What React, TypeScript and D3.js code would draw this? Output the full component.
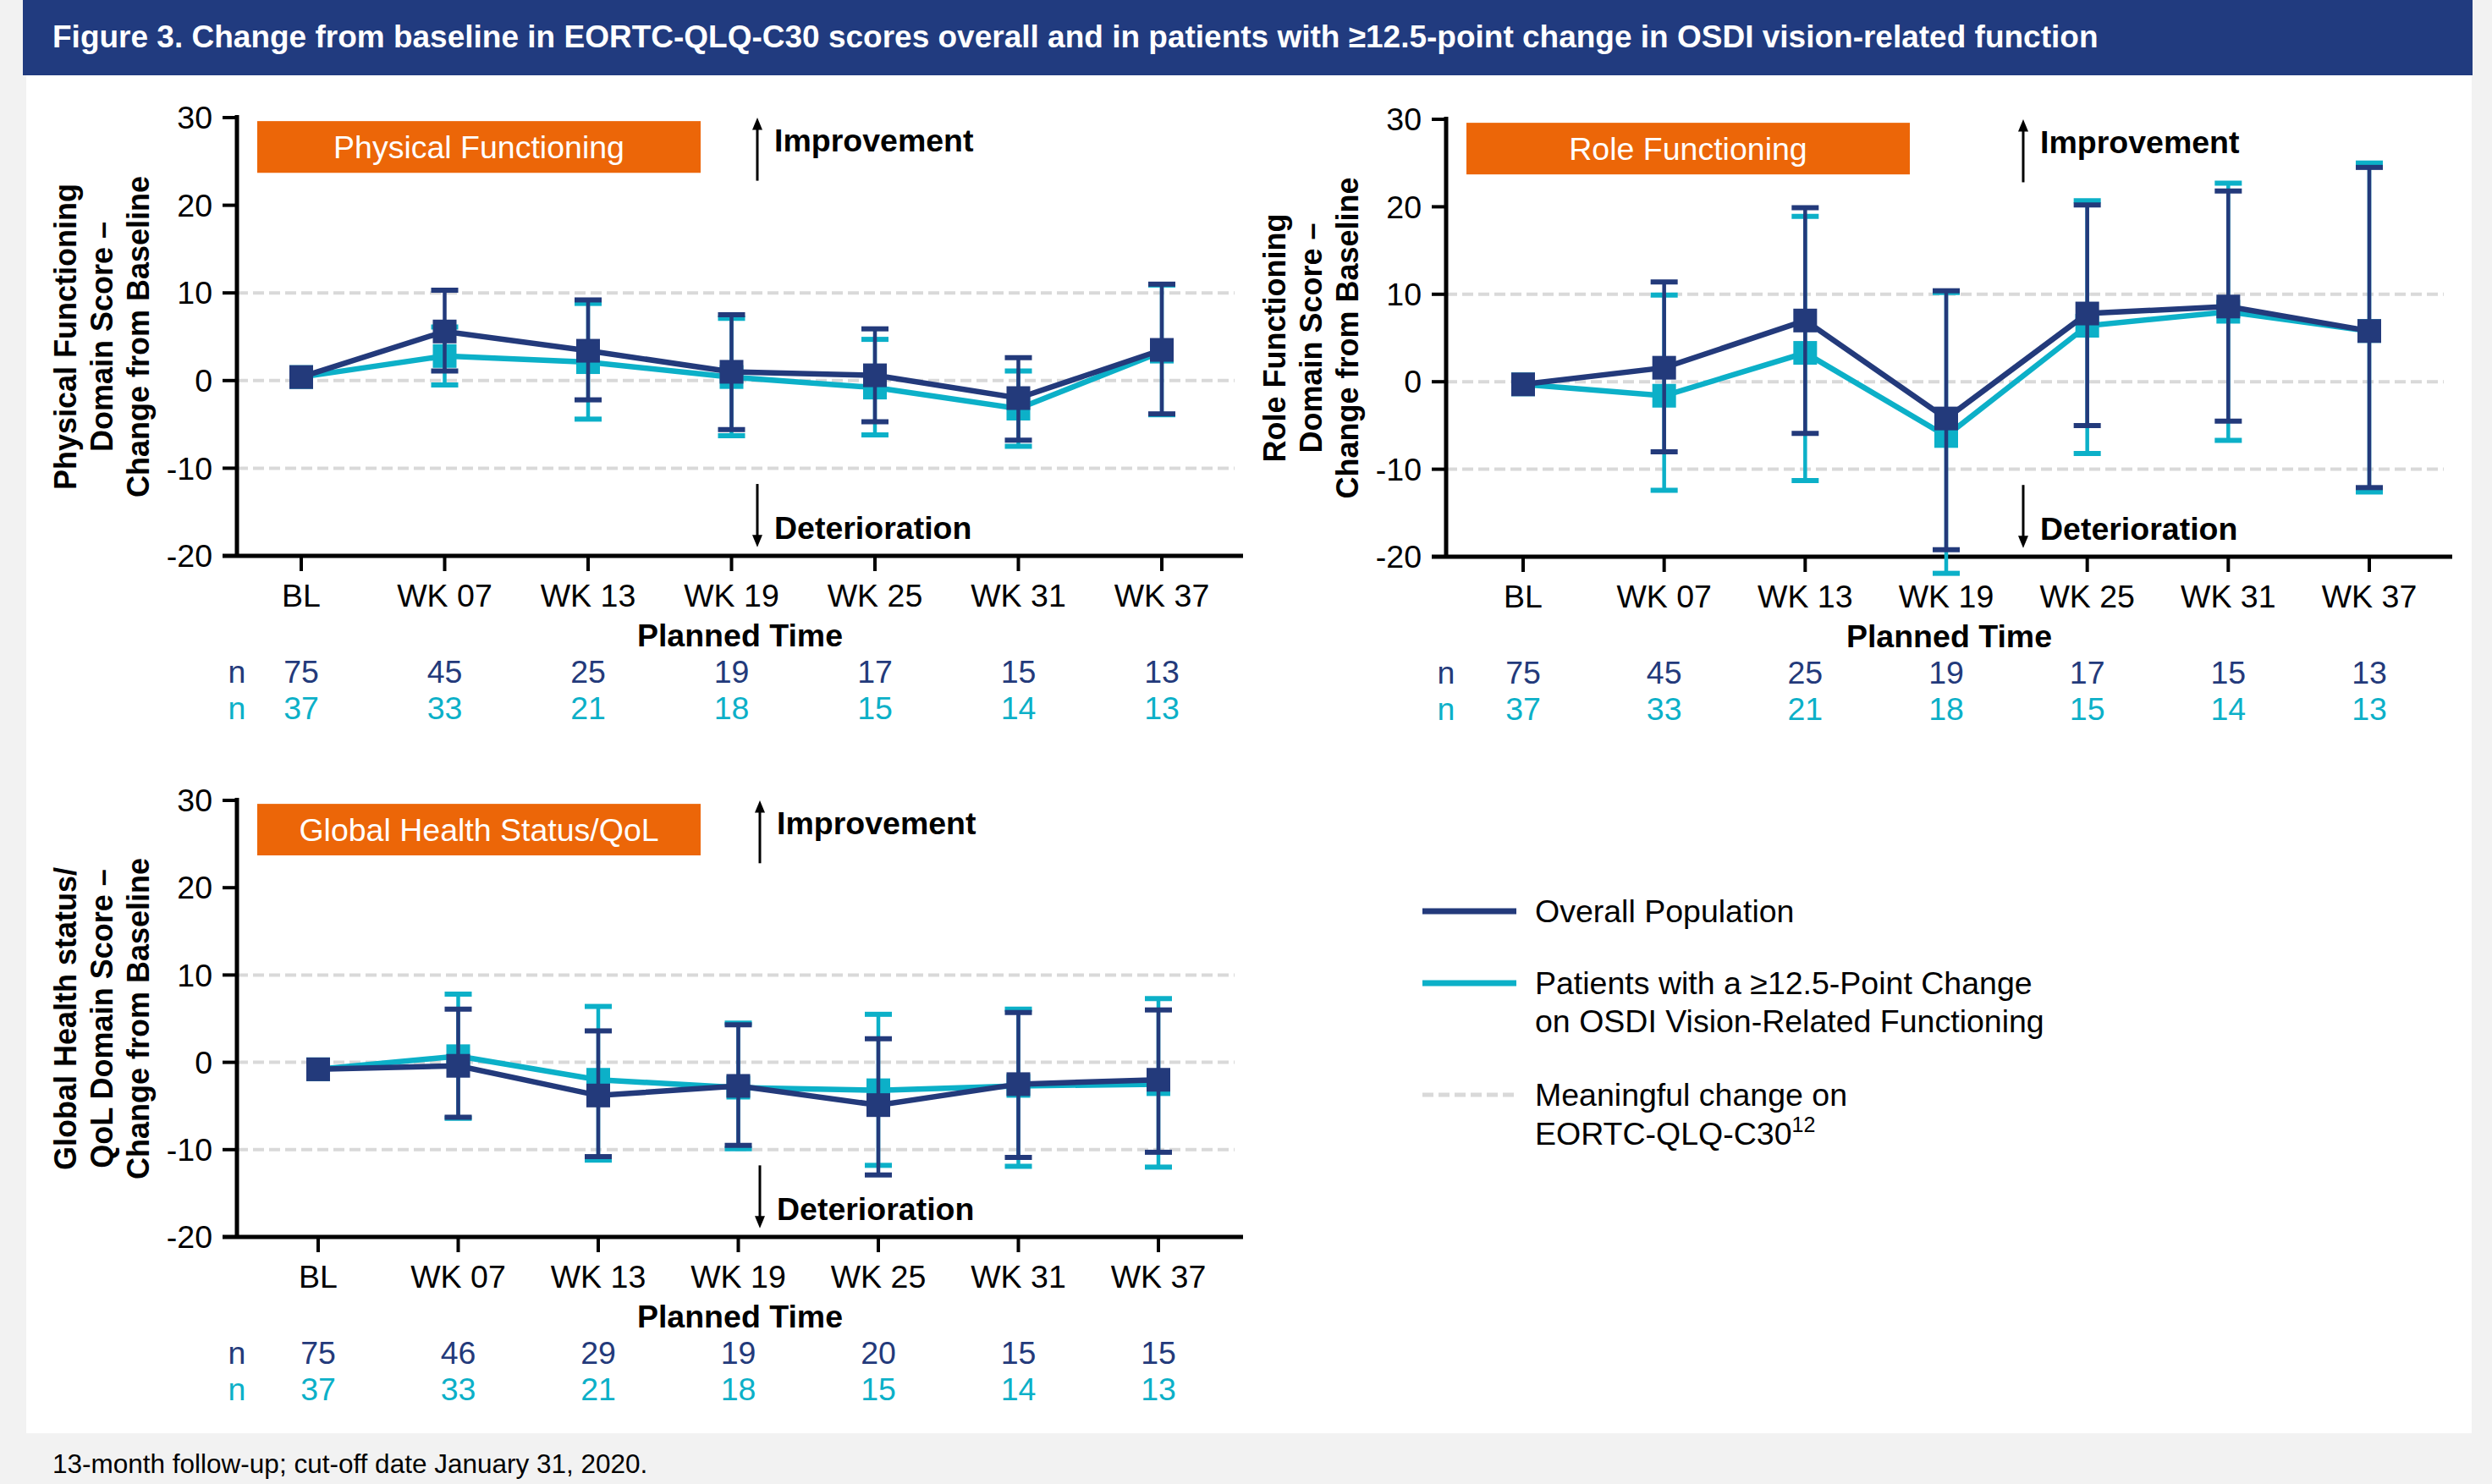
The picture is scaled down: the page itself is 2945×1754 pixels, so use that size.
import React from 'react';
import * as d3 from 'd3';

const categories = ['BL', 'WK 07', 'WK 13', 'WK 19', 'WK 25', 'WK 31', 'WK 37'];
const yTicks = [-20, -10, 0, 10, 20, 30];
const meaningfulLines = [-10, 0, 10];

// Physical functioning
const pfOverall = [0.4, 5.6, 3.4, 1.0, 0.6, -2.0, 3.5];
const pfOverallLo = [null, 1.1, -2.2, -5.6, -4.7, -6.8, -3.8];
const pfOverallHi = [null, 10.3, 9.2, 7.5, 5.9, 2.6, 11.0];
const pfSub = [0.4, 2.8, 2.1, 0.4, -0.8, -3.2, 3.3];
const pfSubLo = [null, -0.5, -4.4, -6.3, -6.2, -7.5, -3.9];
const pfSubHi = [null, 6.1, 8.8, 7.1, 4.7, 1.1, 10.9];
const pfNOverall = [75, 45, 25, 19, 17, 15, 13];
const pfNSub = [37, 33, 21, 18, 15, 14, 13];

// Role functioning
const rfOverall = [-0.3, 1.6, 7.0, -4.2, 7.8, 8.6, 5.8];
const rfOverallLo = [null, -8.0, -5.9, -19.2, -5.0, -4.5, -12.1];
const rfOverallHi = [null, 11.4, 19.9, 10.4, 20.2, 21.8, 24.5];
const rfSub = [-0.3, -1.6, 3.3, -6.2, 6.4, 8.0, 5.8];
const rfSubLo = [null, -12.4, -11.3, -21.9, -8.2, -6.7, -12.6];
const rfSubHi = [null, 9.9, 18.9, 10.2, 20.7, 22.7, 25.0];
const rfNOverall = [75, 45, 25, 19, 17, 15, 13];
const rfNSub = [37, 33, 21, 18, 15, 14, 13];

// Global health status / QoL
const ghOverall = [-0.8, -0.4, -3.8, -2.7, -4.9, -2.5, -2.0];
const ghOverallLo = [null, -6.3, -10.8, -9.5, -12.9, -10.9, -10.3];
const ghOverallHi = [null, 6.1, 3.6, 4.3, 2.7, 5.7, 6.0];
const ghSub = [-0.8, 0.7, -2.0, -2.9, -3.2, -2.7, -2.5];
const ghSubLo = [null, -6.4, -11.2, -9.9, -11.8, -11.9, -12.0];
const ghSubHi = [null, 7.8, 6.4, 4.5, 5.5, 6.1, 7.3];
const ghNOverall = [75, 46, 29, 19, 20, 15, 15];
const ghNSub = [37, 33, 21, 18, 15, 14, 13];

const NAVY = '#233a7b';
const CYAN = '#0cb0c8';
const ORANGE = '#ec6608';
const GRID = '#d9d9d9';
const FONT = '"Liberation Sans", Arial, sans-serif';
const FS = 37.5;

type Series = { mean: number[]; lo: (number | null)[]; hi: (number | null)[]; color: string };

function Panel(props: {
  axisX: number; top: number; bottom: number; right: number;
  firstX: number; lastX: number; boxLabel: string; yTitle: string[];
  arrowDx: number; overall: Series; sub: Series; nOverall: number[]; nSub: number[];
}) {
  const { axisX, top, bottom, right, firstX, lastX } = props;
  const x = d3.scalePoint<string>().domain(categories).range([firstX, lastX]);
  const y = d3.scaleLinear().domain([-20, 30]).range([bottom, top]);
  const line = d3.line<number>().x((_, i) => x(categories[i])!).y(d => y(d));
  const cy = (top + bottom) / 2;
  const arrowX = axisX + props.arrowDx;

  const drawSeries = (s: Series, key: string) => (
    <g key={key}>
      {s.mean.map((m, i) => {
        const lo = s.lo[i];
        const hi = s.hi[i];
        if (lo == null || hi == null) return null;
        const cx = x(categories[i])!;
        return (
          <g key={i} stroke={s.color} strokeWidth={4.5}>
            <line x1={cx} x2={cx} y1={y(lo)} y2={y(hi)} />
            <line x1={cx - 16} x2={cx + 16} y1={y(lo)} y2={y(lo)} strokeWidth={6} />
            <line x1={cx - 16} x2={cx + 16} y1={y(hi)} y2={y(hi)} strokeWidth={6} />
          </g>
        );
      })}
      <path d={line(s.mean) || ''} fill="none" stroke={s.color} strokeWidth={6.5} />
      {s.mean.map((m, i) => (
        <rect key={i} x={x(categories[i])! - 14} y={y(m) - 14} width={28} height={28} fill={s.color} />
      ))}
    </g>
  );

  return (
    <g fontFamily={FONT}>
      {meaningfulLines.map(v => (
        <line key={v} x1={axisX} x2={right - 10} y1={y(v)} y2={y(v)} stroke={GRID} strokeWidth={4} strokeDasharray="13 6" />
      ))}
      {/* axes */}
      <line x1={axisX} x2={axisX} y1={top - 3} y2={bottom} stroke="#000" strokeWidth={5} />
      <line x1={axisX - 17} x2={right} y1={bottom} y2={bottom} stroke="#000" strokeWidth={5} />
      {yTicks.map(t => (
        <g key={t}>
          <line x1={axisX - 17} x2={axisX} y1={y(t)} y2={y(t)} stroke="#000" strokeWidth={4} />
          <text x={axisX - 29} y={y(t)} dy="0.35em" textAnchor="end" fontSize={FS}>{t}</text>
        </g>
      ))}
      {categories.map(c => (
        <g key={c}>
          <line x1={x(c)} x2={x(c)} y1={bottom} y2={bottom + 18} stroke="#000" strokeWidth={4} />
          <text x={x(c)} y={bottom + 47} dy="0.35em" textAnchor="middle" fontSize={FS}>{c}</text>
        </g>
      ))}
      <text x={(axisX + right) / 2} y={bottom + 94} dy="0.35em" textAnchor="middle" fontSize={FS} fontWeight="bold">Planned Time</text>
      <text x={axisX} y={bottom + 137} dy="0.35em" textAnchor="middle" fontSize={FS} fill={NAVY}>n</text>
      <text x={axisX} y={bottom + 180} dy="0.35em" textAnchor="middle" fontSize={FS} fill={CYAN}>n</text>
      {categories.map((c, i) => (
        <g key={c} fontSize={FS} textAnchor="middle">
          <text x={x(c)} y={bottom + 137} dy="0.35em" fill={NAVY}>{props.nOverall[i]}</text>
          <text x={x(c)} y={bottom + 180} dy="0.35em" fill={CYAN}>{props.nSub[i]}</text>
        </g>
      ))}
      {/* y title */}
      {props.yTitle.map((t, i) => (
        <text key={i} transform={`translate(${axisX - 203 + i * 43},${cy}) rotate(-90)`} dy="0.35em"
          textAnchor="middle" fontSize={36} fontWeight="bold">{t}</text>
      ))}
      {/* label box */}
      <rect x={axisX + 24} y={y(29.6)} width={524} height={y(23.7) - y(29.6)} fill={ORANGE} />
      <text x={axisX + 24 + 262} y={(y(29.6) + y(23.7)) / 2} dy="0.35em" textAnchor="middle" fontSize={FS} fill="#fff">{props.boxLabel}</text>
      {/* direction arrows */}
      <line x1={arrowX} x2={arrowX} y1={y(22.8)} y2={y(29.2)} stroke="#000" strokeWidth={3} />
      <path d={`M${arrowX - 6},${y(28.6)} L${arrowX},${y(30)} L${arrowX + 6},${y(28.6)} Z`} fill="#000" />
      <text x={arrowX + 20} y={y(27.4)} dy="0.35em" fontSize={FS} fontWeight="bold">Improvement</text>
      <line x1={arrowX} x2={arrowX} y1={y(-11.8)} y2={y(-18.2)} stroke="#000" strokeWidth={3} />
      <path d={`M${arrowX - 6},${y(-17.6)} L${arrowX},${y(-19)} L${arrowX + 6},${y(-17.6)} Z`} fill="#000" />
      <text x={arrowX + 20} y={y(-16.8)} dy="0.35em" fontSize={FS} fontWeight="bold">Deterioration</text>
      {drawSeries(props.sub, 'sub')}
      {drawSeries(props.overall, 'overall')}
    </g>
  );
}

export default function App() {
  return (
    <svg width={2945} height={1754} style={{ position: 'absolute', left: 0, top: 0, display: 'block' }}>
      <rect x={0} y={0} width={2945} height={1754} fill="#f2f2f2" />
      <rect x={31} y={88} width={2890} height={1606} fill="#fff" />
      <rect x={27} y={0} width={2895} height={89} fill="#213b7f" />
      <text x={62} y={43} dy="0.35em" fontFamily={FONT} fontSize={37} fontWeight="bold" fill="#fff">
        Figure 3. Change from baseline in EORTC-QLQ-C30 scores overall and in patients with ≥12.5-point change in OSDI vision-related function
      </text>

      <Panel axisX={280} top={139} bottom={657} right={1469} firstX={356} lastX={1373}
        boxLabel="Physical Functioning" yTitle={['Physical Functioning', 'Domain Score –', 'Change from Baseline']}
        arrowDx={615}
        overall={{ mean: pfOverall, lo: pfOverallLo, hi: pfOverallHi, color: NAVY }}
        sub={{ mean: pfSub, lo: pfSubLo, hi: pfSubHi, color: CYAN }}
        nOverall={pfNOverall} nSub={pfNSub} />

      <Panel axisX={1709} top={141} bottom={658} right={2898} firstX={1800} lastX={2800}
        boxLabel="Role Functioning" yTitle={['Role Functioning', 'Domain Score –', 'Change from Baseline']}
        arrowDx={682}
        overall={{ mean: rfOverall, lo: rfOverallLo, hi: rfOverallHi, color: NAVY }}
        sub={{ mean: rfSub, lo: rfSubLo, hi: rfSubHi, color: CYAN }}
        nOverall={rfNOverall} nSub={rfNSub} />

      <Panel axisX={280} top={946} bottom={1462} right={1469} firstX={376} lastX={1369}
        boxLabel="Global Health Status/QoL" yTitle={['Global Health status/', 'QoL Domain Score –', 'Change from Baseline']}
        arrowDx={618}
        overall={{ mean: ghOverall, lo: ghOverallLo, hi: ghOverallHi, color: NAVY }}
        sub={{ mean: ghSub, lo: ghSubLo, hi: ghSubHi, color: CYAN }}
        nOverall={ghNOverall} nSub={ghNSub} />

      {/* legend */}
      <g fontFamily={FONT} fontSize={FS}>
        <line x1={1681} x2={1792} y1={1077} y2={1077} stroke={NAVY} strokeWidth={7} />
        <text x={1814} y={1077} dy="0.35em">Overall Population</text>
        <line x1={1681} x2={1792} y1={1162} y2={1162} stroke={CYAN} strokeWidth={7} />
        <text x={1814} y={1162} dy="0.35em">Patients with a ≥12.5-Point Change</text>
        <text x={1814} y={1207} dy="0.35em">on OSDI Vision-Related Functioning</text>
        <line x1={1681} x2={1792} y1={1294} y2={1294} stroke={GRID} strokeWidth={5} strokeDasharray="13 6" />
        <text x={1814} y={1294} dy="0.35em">Meaningful change on</text>
        <text x={1814} y={1340} dy="0.35em">EORTC-QLQ-C30<tspan fontSize={25} dy="-0.6em">12</tspan></text>
      </g>

      <text x={62} y={1730} dy="0.35em" fontFamily={FONT} fontSize={31.5}>13-month follow-up; cut-off date January 31, 2020.</text>
    </svg>
  );
}
